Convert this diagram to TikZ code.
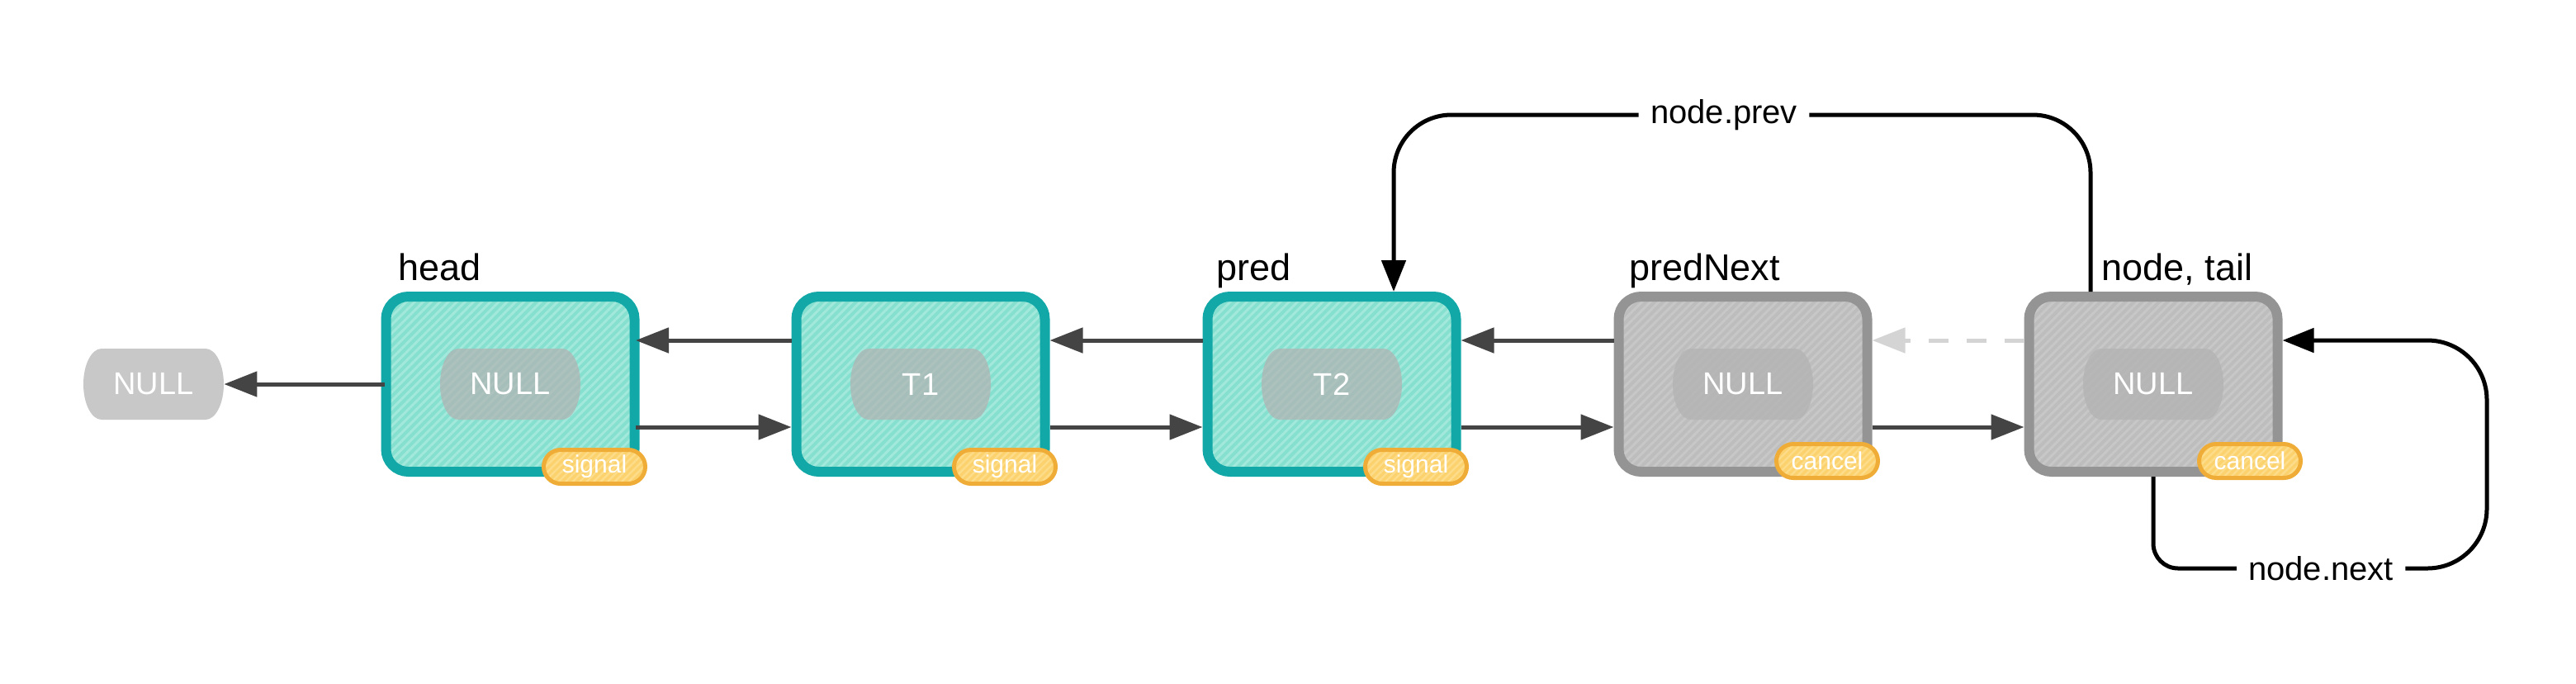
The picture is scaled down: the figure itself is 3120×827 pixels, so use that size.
\documentclass[tikz,border=0pt]{standalone}
\usepackage{fontspec}
\setmainfont{Liberation Sans}
\usetikzlibrary{arrows.meta,patterns.meta}
\definecolor{tealb}{HTML}{12A8A8}
\definecolor{tealf}{HTML}{86E0D0}
\definecolor{teals}{HTML}{A2E8DB}
\definecolor{grayb}{HTML}{949494}
\definecolor{grayf}{HTML}{BDBDBD}
\definecolor{grays}{HTML}{C7C7C7}
\definecolor{badgef}{HTML}{FCD26E}
\definecolor{badges}{HTML}{FDDC8A}
\definecolor{badgeb}{HTML}{EFAD38}
\definecolor{pillg}{HTML}{B2B2B2}
\definecolor{nullg}{HTML}{C8C8C8}
\definecolor{arrg}{HTML}{444444}
\definecolor{dashg}{HTML}{D4D4D4}
\newcommand\pillshape[3]{%
  \path[#3] (#1-63,#2-43) -- (#1+63,#2-43)
    .. controls (#1+75,#2-43) and (#1+85,#2-24) .. (#1+85,#2)
    .. controls (#1+85,#2+24) and (#1+75,#2+43) .. (#1+63,#2+43)
    -- (#1-63,#2+43)
    .. controls (#1-75,#2+43) and (#1-85,#2+24) .. (#1-85,#2)
    .. controls (#1-85,#2-24) and (#1-75,#2-43) .. cycle;}
\tikzset{
  listbox/.style={line width=6pt, minimum width=150.5pt, minimum height=106pt,
    rounded corners=13.5pt, inner sep=0pt},
  livebox/.style={listbox, draw=tealb, preaction={fill=tealf},
    pattern={Lines[angle=45,distance=3.6pt,line width=1.5pt]}, pattern color=teals},
  deadbox/.style={listbox, draw=grayb, preaction={fill=grayf},
    pattern={Lines[angle=45,distance=3.6pt,line width=1.5pt]}, pattern color=grays},
  badge/.style={draw=badgeb, line width=2.5pt, preaction={fill=badgef},
    pattern={Lines[angle=45,distance=3pt,line width=1.2pt]}, pattern color=badges,
    rounded corners=10.25pt, minimum width=61.5pt, minimum height=20.5pt,
    inner sep=0pt, text=white, font=\fontsize{15}{15}\selectfont},
  pilltxt/.style={minimum width=85pt, minimum height=43pt, inner sep=0pt,
    text=white, font=\fontsize{19}{19}\selectfont},
  pillfill/.style={fill=pillg, fill opacity=0.72},
  toplbl/.style={anchor=base west, inner sep=0pt, font=\fontsize{22.5}{22.5}\selectfont},
  looplbl/.style={fill=white, inner xsep=7pt, inner ysep=2pt, font=\fontsize{20}{20}\selectfont},
  darr/.style={draw=arrg, line width=2.5pt, -{Triangle[length=20pt,width=15pt]}},
  barr/.style={draw=black, line width=2.5pt},
  btip/.style={-{Triangle[length=19pt,width=14.5pt]}},
  dasharr/.style={draw=dashg, line width=2.5pt, dash pattern=on 12pt off 11pt,
    -{Triangle[length=20pt,width=15pt]}}
}
\begin{document}
\begin{tikzpicture}[x=0.5pt,y=-0.5pt]
\useasboundingbox (0,0) rectangle (3120,827);
\fill[white] (0,0) rectangle (3120,827);

% boxes
\node[livebox] (b1) at (618,465) {};
\node[livebox] (b2) at (1115,465) {};
\node[livebox] (b3) at (1613,465) {};
\node[deadbox] (b4) at (2111,465) {};
\node[deadbox] (b5) at (2608,465) {};

% pills
\pillshape{186}{465}{fill=nullg}
\node[pilltxt] (null0) at (186,465) {NULL};
\pillshape{618}{465}{pillfill}
\node[pilltxt] (p1) at (618,465) {NULL};
\pillshape{1115}{465}{pillfill}
\node[pilltxt] (p2) at (1115,465) {T1};
\pillshape{1613}{465}{pillfill}
\node[pilltxt] (p3) at (1613,465) {T2};
\pillshape{2111}{465}{pillfill}
\node[pilltxt] (p4) at (2111,465) {NULL};
\pillshape{2608}{465}{pillfill}
\node[pilltxt] (p5) at (2608,465) {NULL};

% badges
\node[badge] (s1) at (720,565) {signal};
\node[badge] (s2) at (1217,565) {signal};
\node[badge] (s3) at (1715,565) {signal};
\node[badge] (s4) at (2213,558) {cancel};
\node[badge] (s5) at (2725,558) {cancel};

% top labels
\node[toplbl] (lhead) at (482,339) {head};
\node[toplbl] (lpred) at (1473,339) {pred};
\node[toplbl] (lpn) at (1973,339) {predNext};
\node[toplbl] (ltail) at (2545,339) {node, tail};

% list links
\draw[darr] (b1.west) -- (null0.east);
\draw[darr] ([yshift=26.5pt]b2.west) -- ([yshift=26.5pt]b1.east);
\draw[darr] ([yshift=-26pt]b1.east) -- ([yshift=-26pt]b2.west);
\draw[darr] ([yshift=26.5pt]b3.west) -- ([yshift=26.5pt]b2.east);
\draw[darr] ([yshift=-26pt]b2.east) -- ([yshift=-26pt]b3.west);
\draw[darr] ([yshift=26.5pt]b4.west) -- ([yshift=26.5pt]b3.east);
\draw[darr] ([yshift=-26pt]b3.east) -- ([yshift=-26pt]b4.west);
\draw[dasharr] ([yshift=26.5pt]b5.west) -- ([yshift=26.5pt]b4.east);
\draw[darr] ([yshift=-26pt]b4.east) -- ([yshift=-26pt]b5.west);

% node.prev
\node[looplbl] (lprev) at (2088,139) {node.prev};
\draw[barr, rounded corners=35pt] ([xshift=-38pt]b5.north) |- (lprev.east);
\draw[barr, btip, rounded corners=35pt] (lprev.west) -| ([xshift=37.5pt]b3.north);

% node.next
\node[looplbl] (lnext) at (2811,688) {node.next};
\draw[barr, rounded corners=15pt] (b5.south) |- (lnext.west);
\draw[barr, btip, rounded corners=36pt] (lnext.east) -| (3012,412) -- ([yshift=26.5pt]b5.east);
\end{tikzpicture}
\end{document}
